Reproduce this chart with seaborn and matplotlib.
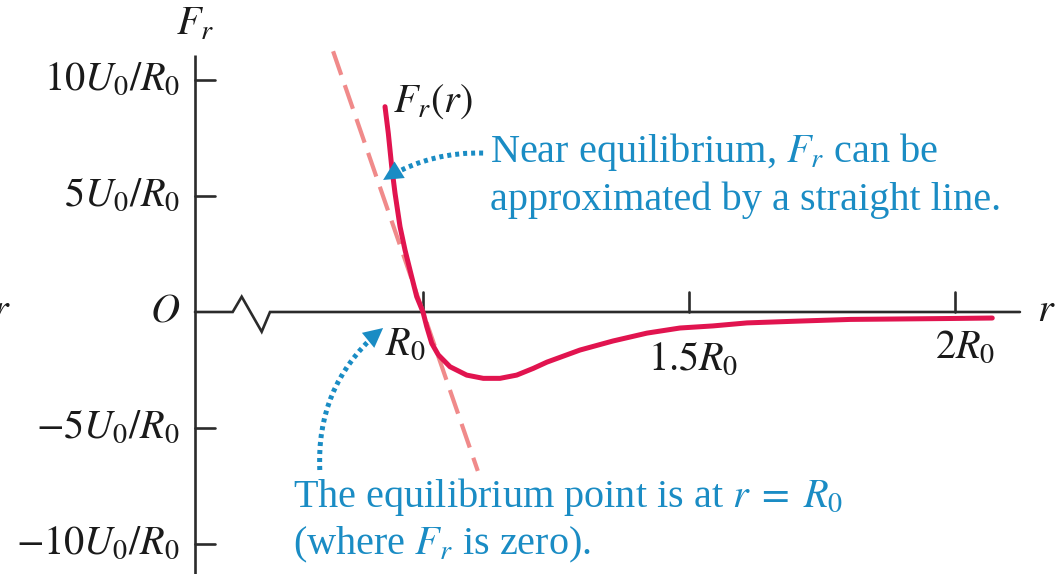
import numpy as np
import pandas as pd
import matplotlib
matplotlib.use("Agg")
import matplotlib.pyplot as plt
from matplotlib.patches import FancyArrowPatch
import seaborn as sns

# Force curve F_r(r), r in units of R0, F in units of U0/R0
r_vals = [0.9286, 0.9348, 0.9412, 0.9474, 0.9568, 0.9662, 0.9788, 0.9882, 1.0000,
          1.0070, 1.0164, 1.0288, 1.0508, 1.0821, 1.1133, 1.1447, 1.1761, 1.2073,
          1.2330, 1.2950, 1.3570, 1.4210, 1.4830, 1.5450, 1.6090, 1.7090, 1.8030,
          1.8970, 1.9910, 2.0700]
f_vals = [8.85, 7.70, 6.26, 5.12, 3.68, 2.67, 1.51, 0.66, 0.00,
          -0.63, -1.35, -1.85, -2.36, -2.72, -2.86, -2.86, -2.72, -2.43,
          -2.16, -1.64, -1.25, -0.91, -0.69, -0.60, -0.47, -0.39, -0.32,
          -0.30, -0.28, -0.26]

# Straight-line approximation near equilibrium
tangent_slope = -66.5
tangent_r = [0.831, 1.103]

# Axis tick values and labels
y_ticks = [10, 5, -5, -10]
y_tick_labels = [r"$10U_0/R_0$", r"$5U_0/R_0$", r"$-5U_0/R_0$", r"$-10U_0/R_0$"]
x_ticks = [1.0, 1.5, 2.0]
x_tick_labels = [r"$R_0$", r"$1.5R_0$", r"$2R_0$"]

sns.set_theme(style="white")
plt.rcParams["font.family"] = ["Liberation Serif", "DejaVu Serif"]
plt.rcParams["mathtext.fontset"] = "stix"

fig = plt.figure(figsize=(10.56, 5.74), dpi=100)
ax = fig.add_axes([0, 0, 1, 1])
ax.set_xlim(0.2049, 2.1898)
ax.set_ylim(-11.293, 13.448)
ax.axis("off")

axis_col = "#2b2b2b"
ink = "#1a1a1a"
red = "#e1144f"
blue = "#1a8cc4"
fs = 29

# Custom axes with a break in the r axis
x_origin = 0.5714
ax.plot([x_origin, x_origin], [-11.4, 11.08], color=axis_col, lw=1.9, solid_capstyle="butt")
ax.plot([x_origin, 0.6423, 0.6592, 0.6968, 0.7124, 2.122],
        [0, 0, 0.66, -0.85, 0, 0], color=axis_col, lw=1.9, solid_joinstyle="miter")
for yt in y_ticks:
    ax.plot([x_origin, x_origin + 0.0376], [yt, yt], color=axis_col, lw=1.9)
for xt in x_ticks:
    ax.plot([xt, xt], [0, 0.86], color=axis_col, lw=1.9)

# Tangent line (dashed) and force curve
tan_df = pd.DataFrame({"r": tangent_r,
                       "F": [tangent_slope * (t - 1.0) for t in tangent_r]})
sns.lineplot(data=tan_df, x="r", y="F", ax=ax, color="#f08a8a", lw=3.0,
             zorder=2).lines[-1].set_dashes([6, 2.6])
curve_df = pd.DataFrame({"r": r_vals, "F": f_vals})
sns.lineplot(data=curve_df, x="r", y="F", ax=ax, color=red, lw=3.6, sort=False,
             zorder=3)

# Tick labels
for yt, lab in zip(y_ticks, y_tick_labels):
    ax.text(0.543, yt, lab, ha="right", va="center", fontsize=fs, color=ink)
ax.text(0.543, 0, r"$O$", ha="right", va="center", fontsize=fs, color=ink)
ax.text(0.966, -1.42, x_tick_labels[0], ha="center", va="center", fontsize=fs, color=ink)
ax.text(1.508, -2.07, x_tick_labels[1], ha="center", va="center", fontsize=fs, color=ink)
ax.text(2.019, -1.55, x_tick_labels[2], ha="center", va="center", fontsize=fs, color=ink)
ax.text(2.154, 0, r"$r$", ha="left", va="center", fontsize=fs, color=ink)
ax.text(0.2255, 0, r"$r$", ha="right", va="center", fontsize=fs, color=ink)
ax.text(x_origin, 12.37, r"$F_r$", ha="center", va="center", fontsize=fs, color=ink)
ax.text(0.944, 9.05, r"$F_r(r)$", ha="left", va="center", fontsize=fs, color=ink)

# Annotations
ax.text(1.126, 6.90, r"Near equilibrium, $F_r$ can be", ha="left", va="center",
        fontsize=fs, color=blue)
ax.text(1.126, 4.83, "approximated by a straight line.", ha="left", va="center",
        fontsize=fs, color=blue)
ax.text(0.756, -7.97, r"The equilibrium point is at $r\;=\;R_0$", ha="left",
        va="center", fontsize=fs, color=blue)
ax.text(0.756, -10.04, r"(where $F_r$ is zero).", ha="left", va="center",
        fontsize=fs, color=blue)


def dotted_arrow(start, end, rad):
    body = FancyArrowPatch(start, end, arrowstyle="-", connectionstyle=f"arc3,rad={rad}",
                           color=blue, lw=3.6, linestyle=(0, (0.8, 0.8)),
                           capstyle="butt", shrinkA=0, shrinkB=6, zorder=4)
    ax.add_patch(body)
    head = FancyArrowPatch(start, end, arrowstyle="-|>,head_length=0.7,head_width=0.35",
                           connectionstyle=f"arc3,rad={rad}", color=blue, lw=0,
                           shrinkA=0, shrinkB=0, zorder=4, mutation_scale=20)
    ax.add_patch(head)


dotted_arrow((1.113, 6.85), (0.925, 5.69), 0.15)
dotted_arrow((0.806, -6.81), (0.925, -0.69), -0.25)

fig.savefig("out.png", dpi=100)
